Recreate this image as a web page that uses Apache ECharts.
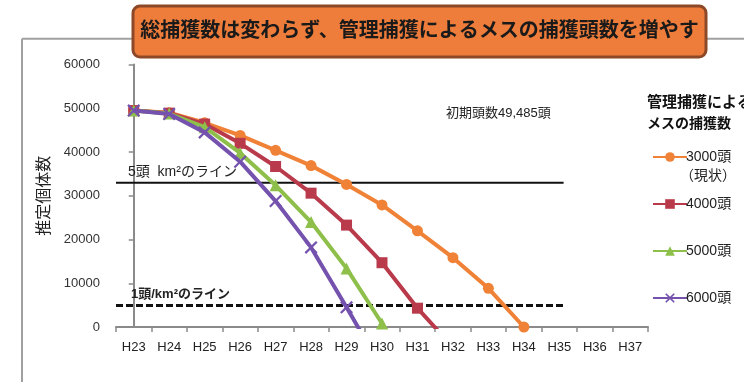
<!DOCTYPE html>
<html>
<head>
<meta charset="utf-8">
<script src="https://cdn.jsdelivr.net/npm/echarts@6/dist/echarts.min.js"></script>
<style>
html,body{margin:0;padding:0;background:#fff;}
#main{width:744px;height:382px;}
</style>
</head>
<body>
<div id="main"></div>
<script>
// ---- data ----
const categories = ['H23','H24','H25','H26','H27','H28','H29','H30','H31','H32','H33','H34','H35','H36','H37'];
const seriesNames = ['3000頭','4000頭','5000頭','6000頭'];
const s3000 = [49485, 49000, 46700, 43800, 40400, 36900, 32600, 27900, 22000, 15850, 8850, 0, null, null, null];
const s4000 = [49485, 48900, 46400, 42000, 36700, 30600, 23300, 14700, 4300, -4600, null, null, null, null, null];
const s5000 = [49485, 48800, 45700, 39800, 32400, 24000, 13400, 800, -12000, null, null, null, null, null, null];
const s6000 = [49485, 48700, 44500, 37800, 28800, 18200, 4500, -9500, null, null, null, null, null, null, null];
const yTicks = [0, 10000, 20000, 30000, 40000, 50000, 60000];
const line5Value = 33000;   // 5頭/km² line
const line1Value = 4900;    // 1頭/km² line
const refLineSpan = [-0.5, 12.12]; // category-index extent of reference lines

const FONT = "'Liberation Sans','Noto Sans CJK JP',sans-serif";
const colors = ['#F08237', '#B93A4A', '#8DBF4A', '#7452AE'];
const xSymbol = 'path://M0,1.2 L1.2,0 L5,3.8 L8.8,0 L10,1.2 L6.2,5 L10,8.8 L8.8,10 L5,6.2 L1.2,10 L0,8.8 L3.8,5 Z';
const symbols = ['circle', 'rect', 'triangle', xSymbol];
const symbolSizes = [11, 11, 12, 13];
const values = [s3000, s4000, s5000, s6000];

const chart = echarts.init(document.getElementById('main'), null, {renderer: 'canvas'});

const dataSeries = values.map((v, i) => ({
  name: seriesNames[i],
  type: 'line',
  xAxisIndex: 0,
  yAxisIndex: 0,
  data: v,
  symbol: symbols[i],
  symbolSize: symbolSizes[i],
  showAllSymbol: true,
  connectNulls: false,
  clip: true,
  z: 10 + i,
  lineStyle: {color: colors[i], width: 4},
  itemStyle: {color: colors[i]},
  emphasis: {disabled: true},
  animation: false
}));

const refSeries = [
  {
    name: 'line5', type: 'line', xAxisIndex: 1, yAxisIndex: 0,
    data: refLineSpan.map(x => [x, line5Value]),
    symbol: 'none', z: 2, silent: true, animation: false,
    lineStyle: {color: '#111', width: 2}
  },
  {
    name: 'line1', type: 'line', xAxisIndex: 1, yAxisIndex: 0,
    data: refLineSpan.map(x => [x, line1Value]),
    symbol: 'none', z: 2, silent: true, animation: false,
    lineStyle: {color: '#111', width: 3, type: [7, 3]}
  }
];

const option = {
  backgroundColor: '#fff',
  animation: false,
  textStyle: {fontFamily: FONT},
  grid: {left: 116, right: 96, top: 64.6, bottom: 55, containLabel: false},
  xAxis: [
    {
      type: 'category',
      data: categories,
      boundaryGap: true,
      axisLine: {lineStyle: {color: '#8a8a8a', width: 2}},
      axisTick: {show: true, length: 5, lineStyle: {color: '#8a8a8a', width: 1.5}},
      axisLabel: {color: '#222', fontSize: 13, margin: 14, fontFamily: FONT},
      splitLine: {show: false}
    },
    {
      type: 'value', min: -0.5, max: categories.length - 0.5, show: false
    }
  ],
  yAxis: [{
    type: 'value',
    min: yTicks[0],
    max: yTicks[yTicks.length - 1],
    interval: yTicks[1] - yTicks[0],
    name: '推定個体数',
    nameLocation: 'middle',
    nameRotate: 90,
    nameGap: 62,
    nameTextStyle: {color: '#222', fontSize: 16, fontFamily: FONT},
    axisLine: {show: true, lineStyle: {color: '#8a8a8a', width: 2}},
    axisTick: {show: true, length: 5, lineStyle: {color: '#8a8a8a', width: 1.5}},
    axisLabel: {color: '#333', fontSize: 13, margin: 16, fontFamily: FONT, formatter: v => String(v)},
    splitLine: {show: false}
  }],
  legend: {
    data: seriesNames,
    orient: 'vertical',
    left: 647,
    top: 145,
    itemWidth: 34,
    itemHeight: 12,
    itemGap: 33,
    selectedMode: false,
    textStyle: {color: '#222', fontSize: 14, fontFamily: FONT, padding: [0, 0, 0, -6]}
  },
  graphic: [
    // frame
    {type: 'line', shape: {x1: 22, y1: 38.7, x2: 744, y2: 38.7}, style: {stroke: '#a0a0a0', lineWidth: 2}, z: 1},
    {type: 'line', shape: {x1: 22, y1: 38.7, x2: 22, y2: 382}, style: {stroke: '#a0a0a0', lineWidth: 2}, z: 1},
    // title box
    {type: 'rect', shape: {x: 133, y: 6, width: 573, height: 51, r: 7},
      style: {fill: '#EE7C3B', stroke: '#8C4827', lineWidth: 3}, z: 100},
    {type: 'text', x: 419.5, y: 31.5, z: 101,
      style: {text: '総捕獲数は変わらず、管理捕獲によるメスの捕獲頭数を増やす', fill: '#1a1a1a',
        font: 'bold 20px ' + FONT, align: 'center', verticalAlign: 'middle'}},
    // annotations
    {type: 'text', x: 128, y: 172, z: 50,
      style: {text: '5頭  km²のライン', fill: '#222', font: '14px ' + FONT, verticalAlign: 'middle'}},
    {type: 'text', x: 131, y: 294, z: 50,
      style: {text: '1頭/km²のライン', fill: '#222', font: 'bold 13px ' + FONT, verticalAlign: 'middle'}},
    {type: 'text', x: 446, y: 113, z: 50,
      style: {text: '初期頭数49,485頭', fill: '#222', font: '13px ' + FONT, verticalAlign: 'middle'}},
    // legend title
    {type: 'text', x: 647, y: 103, z: 50,
      style: {text: '管理捕獲による', fill: '#111', font: 'bold 15px ' + FONT, verticalAlign: 'middle'}},
    {type: 'text', x: 647, y: 124, z: 50,
      style: {text: 'メスの捕獲数', fill: '#111', font: 'bold 14px ' + FONT, verticalAlign: 'middle'}},
    {type: 'text', x: 680, y: 176, z: 50,
      style: {text: '（現状）', fill: '#222', font: '14px ' + FONT, verticalAlign: 'middle'}}
  ],
  series: refSeries.concat(dataSeries)
};

chart.setOption(option);
</script>
</body>
</html>
